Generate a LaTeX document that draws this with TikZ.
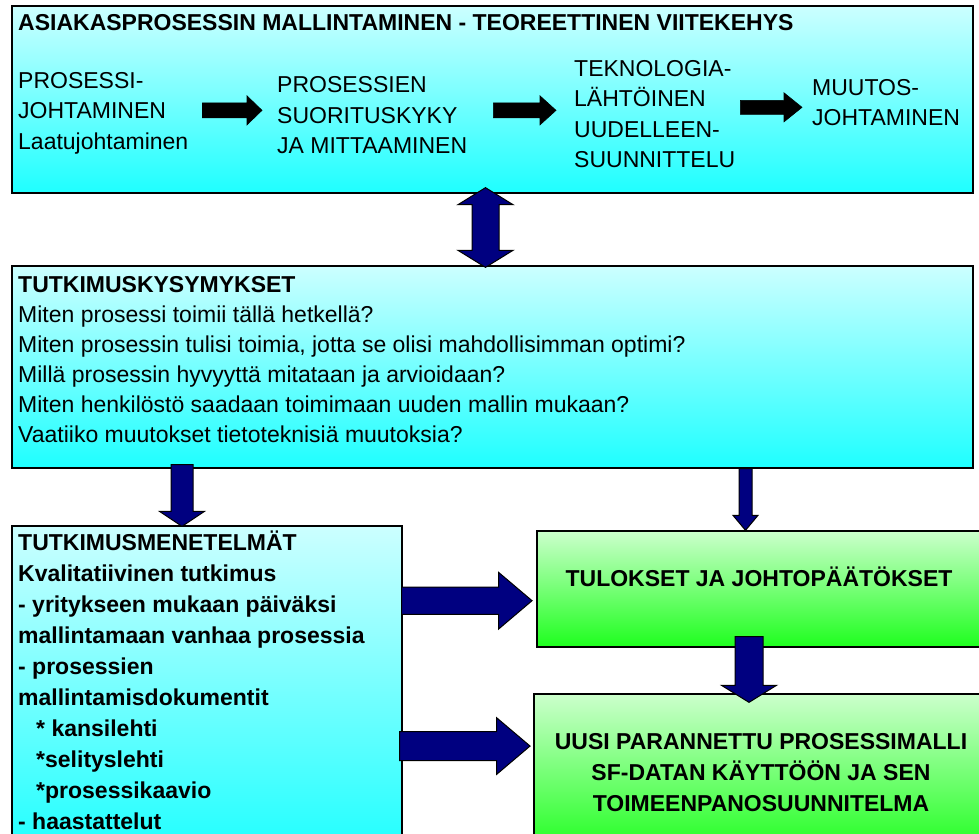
\documentclass[tikz,border=0pt]{standalone}
\usepackage{fontspec}
\setmainfont{Liberation Sans}
\usepackage{xcolor}
\definecolor{cNavy}{HTML}{000080}
\definecolor{cCyanTop}{HTML}{CCFFFF}
\definecolor{cCyanBot}{HTML}{1EFFFF}
\definecolor{cGreenTop}{HTML}{CCFFCC}
\definecolor{cGreenBot}{HTML}{1EFF1E}
\usepackage{tikz}
\usetikzlibrary{calc}
\newcommand\fTitle{\bfseries\fontsize{23}{30.5}\selectfont}
\newcommand\fTop{\fontsize{23}{30.5}\selectfont}
\newcommand\fQ{\fontsize{23}{30}\selectfont}
\newcommand\fMen{\bfseries\fontsize{23}{31}\selectfont}
\newcommand\fGreen{\bfseries\fontsize{23}{31.3}\selectfont}
\tikzset{
  node-box/.style={draw=black,line width=1.3pt,inner sep=0pt},
  node-cyan/.style={node-box,top color=cCyanTop,bottom color=cCyanBot},
  node-green/.style={node-box,top color=cGreenTop,bottom color=cGreenBot},
  node-txt/.style={anchor=north west,inner sep=0pt,align=left},
  arrow-black/.style={fill=black,draw=black,line width=0.6pt},
  arrow-navy/.style={fill=cNavy,draw=black,line width=1pt,line join=miter},
}
% block arrow: [style]{from}{to}{shaft half}{head half}{head length}
\newcommand\blockarrow[6][]{%
  \path (#2) coordinate (ba-s) (#3) coordinate (ba-e);
  \path ($(ba-e)!#6!(ba-s)$) coordinate (ba-n);
  \draw[#1] ($(ba-s)!#4!90:(ba-e)$) -- ($(ba-n)!#4!90:(ba-e)$)
    -- ($(ba-n)!#5!90:(ba-e)$) -- (ba-e)
    -- ($(ba-n)!#5!-90:(ba-e)$) -- ($(ba-n)!#4!-90:(ba-e)$)
    -- ($(ba-s)!#4!-90:(ba-e)$) -- cycle;}
\newcommand\dblarrow[6][]{%
  \path (#2) coordinate (da-s) (#3) coordinate (da-e);
  \path ($(da-s)!#6!(da-e)$) coordinate (da-m) ($(da-e)!#6!(da-s)$) coordinate (da-n);
  \draw[#1] (da-s) -- ($(da-m)!#5!90:(da-e)$) -- ($(da-m)!#4!90:(da-e)$)
    -- ($(da-n)!#4!90:(da-e)$) -- ($(da-n)!#5!90:(da-e)$) -- (da-e)
    -- ($(da-n)!#5!-90:(da-e)$) -- ($(da-n)!#4!-90:(da-e)$)
    -- ($(da-m)!#4!-90:(da-e)$) -- ($(da-m)!#5!-90:(da-e)$) -- cycle;}
\begin{document}
\begin{tikzpicture}[x=1pt,y=-1pt]
  \useasboundingbox (0,0) rectangle (979,834);
  \clip (0,0) rectangle (979,834);
  % boxes
  \node[node-cyan,minimum width=961pt,minimum height=187pt] (top) at (492.5,99.5) {};
  \node[node-cyan,minimum width=961pt,minimum height=202pt] (kys) at (492.5,367) {};
  \node[node-cyan,minimum width=390pt,minimum height=330pt] (men) at (207,691) {};
  \node[node-green,minimum width=448pt,minimum height=116pt] (res) at (761,589) {};
  \node[node-green,minimum width=451pt,minimum height=160pt] (new) at (759.5,774) {};
  % texts
  \node[inner sep=0pt,anchor=base west,font=\fTitle] (ttl) at (18,31) {ASIAKASPROSESSIN MALLINTAMINEN - TEOREETTINEN VIITEKEHYS};
  \node[node-txt,font=\fTop] (t1) at (18,66.6) {\strut PROSESSI-\\JOHTAMINEN\\Laatujohtaminen};
  \node[node-txt,font=\fTop] (t2) at (277,71.3) {\strut PROSESSIEN\\SUORITUSKYKY\\JA MITTAAMINEN};
  \node[node-txt,font=\fTop] (t3) at (574,54.6) {\strut TEKNOLOGIA-\\LÄHTÖINEN\\UUDELLEEN-\\SUUNNITTELU};
  \node[node-txt,font=\fTop] (t4) at (812,73.6) {\strut MUUTOS-\\JOHTAMINEN};
  \node[node-txt,font=\fQ] (q) at (18,271.5) {\strut\textbf{TUTKIMUSKYSYMYKSET}\\Miten prosessi toimii tällä hetkellä?\\Miten prosessin tulisi toimia, jotta se olisi mahdollisimman optimi?\\Millä prosessin hyvyyttä mitataan ja arvioidaan?\\Miten henkilöstö saadaan toimimaan uuden mallin mukaan?\\Vaatiiko muutokset tietoteknisiä muutoksia?};
  \node[node-txt,font=\fMen] (m) at (18,529) {\strut TUTKIMUSMENETELMÄT\\Kvalitatiivinen tutkimus\\- yritykseen mukaan päiväksi\\mallintamaan vanhaa prosessia\\- prosessien\\mallintamisdokumentit\\\hspace*{18pt}* kansilehti\\\hspace*{18pt}*selityslehti\\\hspace*{18pt}*prosessikaavio\\- haastattelut};
  \node[inner sep=0pt,anchor=base,font=\fGreen] (rtxt) at (759,586.7) {TULOKSET JA JOHTOPÄÄTÖKSET};
  \node[inner sep=0pt,anchor=north,align=center,font=\fGreen] (ntxt) at (761,727.1) {\strut UUSI PARANNETTU PROSESSIMALLI\\SF-DATAN KÄYTTÖÖN JA SEN\\TOIMEENPANOSUUNNITELMA};
  % arrows
  \blockarrow[arrow-black]{$(t1.east)+(14,0)$}{$(t1.east -| t2.west)+(-15,0)$}{7.5pt}{14.5pt}{15pt}
  \blockarrow[arrow-black]{$(t2.east |- t1.east)+(26,0)$}{$(t1.east -| t3.west)+(-18,0)$}{7.5pt}{14.5pt}{16pt}
  \blockarrow[arrow-black]{$(t3.east)+(5,-4)$}{$(t3.east -| t4.west)+(-10,-4)$}{7pt}{14.5pt}{18pt}
  \dblarrow[arrow-navy]{$(top.south)+(-7,-6)$}{$(kys.north)+(-7,2)$}{13.5pt}{27.5pt}{17pt}
  \blockarrow[arrow-navy]{$(kys.south -| men.north)+(-25,-4)$}{$(men.north)+(-25,1)$}{11pt}{22.5pt}{15pt}
  \blockarrow[arrow-navy]{$(kys.south -| res.north)+(-15.5,0)$}{$(res.north)+(-15.5,0)$}{6.5pt}{12.5pt}{15pt}
  \blockarrow[arrow-navy]{$(res.south)+(-12,-11)$}{$(new.north)+(-10.5,9)$}{14pt}{27.5pt}{17pt}
  \blockarrow[arrow-navy]{$(men.east |- res.west)+(-1,11.7)$}{$(res.west)+(-4.3,11.7)$}{13.7pt}{28.3pt}{33.4pt}
  \blockarrow[arrow-navy]{$(men.east |- new.north west)+(-3,52.7)$}{$(new.north west)+(-3.3,52.7)$}{14.5pt}{28.3pt}{33.4pt}
\end{tikzpicture}
\end{document}
